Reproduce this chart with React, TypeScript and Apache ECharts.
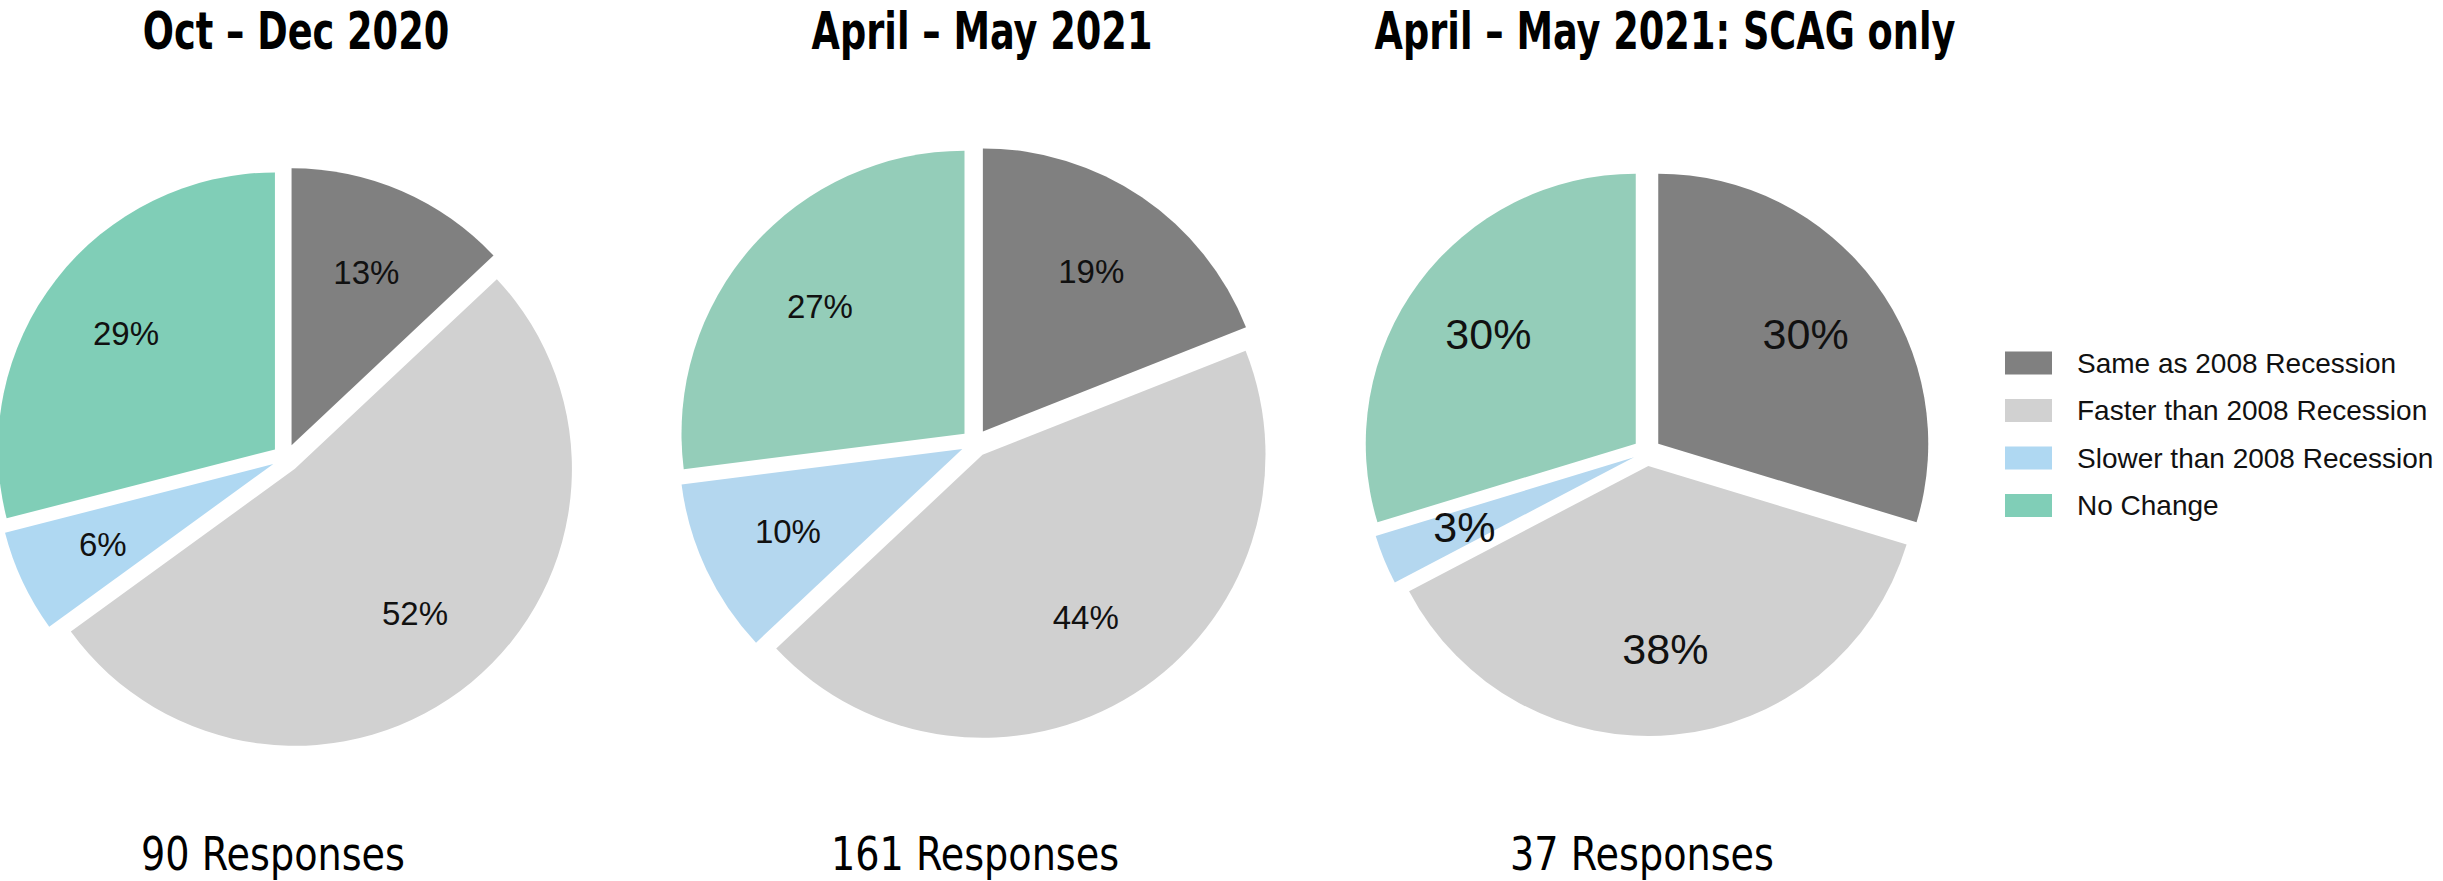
import React, { useEffect, useRef } from 'react';
import * as echarts from 'echarts';

const categories = [
  'Same as 2008 Recession',
  'Faster than 2008 Recession',
  'Slower than 2008 Recession',
  'No Change',
];
const octDec2020 = [13, 52, 6, 29];
const aprMay2021 = [19, 44, 10, 27];
const aprMay2021Scag = [30, 38, 3, 30];
const chartTitles = ['Oct – Dec 2020', 'April – May 2021', 'April – May 2021: SCAG only'];
const responseLabels = ['90 Responses', '161 Responses', '37 Responses'];

const pieValues = [octDec2020, aprMay2021, aprMay2021Scag];
const pieColors = [
  ['#808080', '#d1d1d1', '#afd8f2', '#80ceb7'],
  ['#808080', '#d0d0d0', '#b4d7ef', '#94cdb9'],
  ['#808080', '#d0d0d0', '#b4d7ef', '#94cdb9'],
];
const pieLayout = [
  { cx: 286, cy: 458, r: 277, font: 33 },
  { cx: 975, cy: 443, r: 283, font: 33 },
  { cx: 1647, cy: 452, r: 270, font: 43 },
];
const titleX = [296, 982, 1665];
const responseX = [273, 975, 1642];

const titleFont = "'DejaVu Sans', 'Liberation Sans', sans-serif";
const sans = "'Liberation Sans', Arial, Helvetica, sans-serif";

export default function App() {
  const ref = useRef<HTMLDivElement>(null);
  useEffect(() => {
    if (!ref.current) return;
    const chart = echarts.init(ref.current, undefined, { renderer: 'svg' });
    const series: any[] = [];
    pieValues.forEach((vals, i) => {
      const L = pieLayout[i];
      series.push({
        type: 'pie',
        center: [L.cx, L.cy],
        radius: [0, L.r],
        startAngle: 90,
        clockwise: true,
        selectedMode: 'multiple',
        selectedOffset: 14,
        avoidLabelOverlap: false,
        label: { show: false },
        labelLine: { show: false },
        emphasis: { disabled: true },
        itemStyle: { borderWidth: 0 },
        data: vals.map((v, k) => ({
          name: categories[k],
          value: v,
          selected: true,
          itemStyle: { color: pieColors[i][k] },
        })),
      });
    });
    pieValues.forEach((vals, i) => {
      const L = pieLayout[i];
      series.push({
        type: 'pie',
        center: [L.cx, L.cy],
        radius: [L.r * 0.44, L.r],
        startAngle: 90,
        clockwise: true,
        silent: true,
        legendHoverLink: false,
        avoidLabelOverlap: false,
        label: {
          show: true,
          position: 'inside',
          formatter: '{c}%',
          fontSize: L.font,
          fontFamily: sans,
          color: '#111111',
        },
        labelLine: { show: false },
        itemStyle: { color: 'rgba(0,0,0,0)', borderWidth: 0 },
        data: vals.map((v, k) => ({ name: categories[k], value: v })),
      });
    });
    const graphics: any[] = [];
    chartTitles.forEach((t, i) => {
      graphics.push({
        type: 'text',
        x: titleX[i],
        y: 31,
        scaleX: 0.72,
        style: {
          text: t,
          fontFamily: titleFont,
          fontWeight: 'bold',
          fontSize: 51,
          fill: '#000',
          align: 'center',
          verticalAlign: 'middle',
        },
      });
    });
    responseLabels.forEach((t, i) => {
      graphics.push({
        type: 'text',
        x: responseX[i],
        y: 854,
        scaleX: 0.83,
        style: {
          text: t,
          fontFamily: titleFont,
          fontSize: 46,
          fill: '#000',
          align: 'center',
          verticalAlign: 'middle',
        },
      });
    });
    chart.setOption({
      animation: false,
      backgroundColor: '#ffffff',
      legend: {
        data: categories,
        orient: 'vertical',
        left: 2000,
        top: 344,
        icon: 'rect',
        itemWidth: 47,
        itemHeight: 23,
        itemGap: 19.5,
        selectedMode: false,
        textStyle: {
          fontSize: 28,
          lineHeight: 28,
          fontFamily: sans,
          color: '#111111',
          padding: [0, 0, 0, 20],
        },
      },
      graphic: graphics,
      series,
    });
    return () => chart.dispose();
  }, []);
  return (
    <div
      ref={ref}
      style={{ position: 'fixed', left: 0, top: 0, width: 2443, height: 881, background: '#fff' }}
    />
  );
}
